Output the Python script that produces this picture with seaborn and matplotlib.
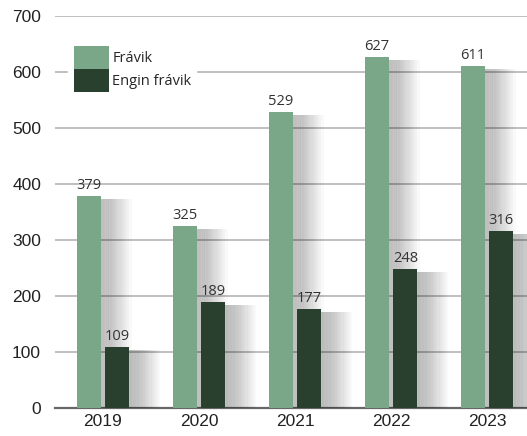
import numpy as np
import pandas as pd
import matplotlib
matplotlib.use("Agg")
import matplotlib.pyplot as plt
import matplotlib.patheffects as pe
import seaborn as sns

years = ["2019", "2020", "2021", "2022", "2023"]
fravik = [379, 325, 529, 627, 611]
engin_fravik = [109, 189, 177, 248, 316]
series_names = ["Frávik", "Engin frávik"]
colors = ["#7aa788", "#29402f"]

df = pd.DataFrame({
    "year": years * 2,
    "value": fravik + engin_fravik,
    "series": [series_names[0]] * len(years) + [series_names[1]] * len(years),
})

sns.set_style("white")
plt.rcParams["font.family"] = ["Liberation Sans", "DejaVu Sans"]

fig = plt.figure(figsize=(5.27, 4.36), dpi=100)
ax = fig.add_axes([55 / 527, 28 / 436, 472 / 527, 392 / 436])

sns.barplot(data=df, x="year", y="value", hue="series", palette=colors,
            width=0.6, gap=0.17, saturation=1, ax=ax, zorder=3)

# soft shadow to the right of each bar
shadow = []
for i in range(1, 15):
    shadow.append(pe.SimplePatchShadow(offset=(i * 1.6, -2), shadow_rgbFace="black",
                                       alpha=0.025))
shadow.append(pe.Normal())
for p in ax.patches:
    p.set_path_effects(shadow)
    p.set_edgecolor("none")

for cont in ax.containers:
    ax.bar_label(cont, padding=2, fontsize=10.5, color="#333333",
                 family=["Open Sans", "DejaVu Sans"])

ax.set_ylim(0, 700)
ax.set_xlim(-0.5, 4.417)
ax.set_yticks(range(0, 701, 100))
ax.yaxis.grid(True, color="#adadad", linewidth=1.1, zorder=0)
ax.set_axisbelow(True)
ax.set_xlabel("")
ax.set_ylabel("")
ax.tick_params(axis="both", length=0, labelsize=12.5, colors="#222222")
ax.tick_params(axis="y", pad=10)
ax.tick_params(axis="x", pad=4)
for s in ["left", "right", "top"]:
    ax.spines[s].set_visible(False)
ax.spines["bottom"].set_color("#666666")
ax.spines["bottom"].set_linewidth(1.6)

leg = ax.legend(loc="upper left", bbox_to_anchor=(0.013, 0.955), frameon=True,
                framealpha=1, edgecolor="white",
                handlelength=2.4, handleheight=2.0, handletextpad=0.25,
                labelspacing=0.05, borderpad=0.35,
                prop={"family": ["Open Sans", "DejaVu Sans"], "size": 10.5})
for h in leg.legend_handles:
    h.set_path_effects([])

fig.savefig("out.png", dpi=100)
